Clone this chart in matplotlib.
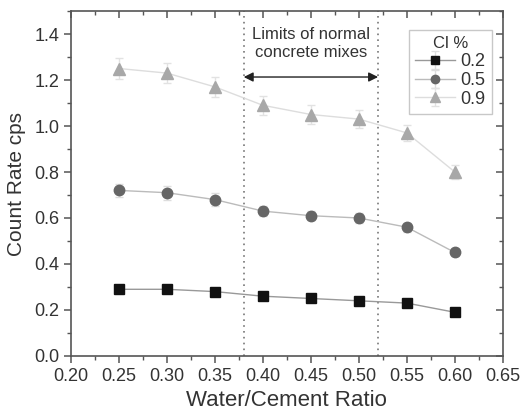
import matplotlib
matplotlib.use("Agg")
import matplotlib.pyplot as plt
from matplotlib.ticker import MultipleLocator

wc_ratio = [0.25, 0.30, 0.35, 0.40, 0.45, 0.50, 0.55, 0.60]
cl_02 = [0.29, 0.29, 0.28, 0.26, 0.25, 0.24, 0.23, 0.19]
cl_05 = [0.72, 0.71, 0.68, 0.63, 0.61, 0.60, 0.56, 0.45]
cl_09 = [1.25, 1.23, 1.17, 1.09, 1.05, 1.03, 0.97, 0.80]
err_02 = [0.01] * 8
err_05 = [0.03, 0.03, 0.03, 0.02, 0.02, 0.02, 0.02, 0.015]
err_09 = [0.045, 0.045, 0.045, 0.04, 0.04, 0.04, 0.035, 0.03]
limits = [0.38, 0.52]
yticks = [0.0, 0.2, 0.4, 0.6, 0.8, 1.0, 1.2, 1.4]

tc = "#333333"
plt.rcParams['font.family'] = ['Liberation Sans', 'DejaVu Sans']
fig = plt.figure(figsize=(5.2, 4.17), dpi=100)
ax = fig.add_axes([0.1365, 0.1463, 0.8305, 0.8273])

ax.errorbar(wc_ratio, cl_02, yerr=err_02, color="#999999", ecolor="#dddddd",
            marker="s", mfc="#111111", mec="#111111", ms=6.5, lw=1, capsize=3,
            label="0.2", zorder=3)
ax.errorbar(wc_ratio, cl_05, yerr=err_05, color="#bbbbbb", ecolor="#dddddd",
            marker="o", mfc="#666666", mec="#666666", ms=7.5, lw=1, capsize=3,
            label="0.5", zorder=3)
ax.errorbar(wc_ratio, cl_09, yerr=err_09, color="#dddddd", ecolor="#e2e2e2",
            marker="^", mfc="#a8a8a8", mec="#a8a8a8", ms=8.5, lw=1, capsize=3,
            label="0.9", zorder=3)

for xv in limits:
    ax.axvline(xv, color="#777777", ls=(0, (1, 2.5)), lw=1.2, zorder=2)

ax.annotate("", xy=(limits[0], 1.213), xytext=(limits[1], 1.213),
            arrowprops=dict(arrowstyle="<|-|>", color="#222222", lw=1,
                            mutation_scale=14, shrinkA=0, shrinkB=0))
ax.text(sum(limits) / 2, 1.36, "Limits of normal\nconcrete mixes",
        ha="center", va="center", fontsize=12, color=tc, linespacing=1.25)

ax.set_xlim(0.20, 0.65)
ax.set_ylim(0.0, 1.5)
ax.xaxis.set_major_locator(MultipleLocator(0.05))
ax.xaxis.set_minor_locator(MultipleLocator(0.025))
ax.set_yticks(yticks)
ax.yaxis.set_minor_locator(MultipleLocator(0.1))
ax.xaxis.set_major_formatter(plt.FuncFormatter(lambda v, p: f"{v:.2f}"))
ax.yaxis.set_major_formatter(plt.FuncFormatter(lambda v, p: f"{v:.1f}"))

for side in ["left", "bottom", "right", "top"]:
    ax.spines[side].set_color("#555555")
    ax.spines[side].set_linewidth(1.2)
ax.tick_params(which="both", direction="out", color="#555555", labelcolor=tc,
               labelsize=13)
ax.tick_params(which="major", length=5, width=1.1)
ax.tick_params(which="minor", length=3, width=1)
ax.tick_params(which="both", top=False, right=False)
# mirrored ticks point inward
ax2 = ax.secondary_xaxis("top")
ax2.xaxis.set_major_locator(MultipleLocator(0.05))
ax2.xaxis.set_minor_locator(MultipleLocator(0.025))
ax2.tick_params(which="both", direction="in", color="#555555", labeltop=False)
ax2.tick_params(which="major", length=5, width=1.1)
ax2.tick_params(which="minor", length=3, width=1)
ax2.spines["top"].set_visible(False)
ax3 = ax.secondary_yaxis("right")
ax3.set_yticks(yticks)
ax3.yaxis.set_minor_locator(MultipleLocator(0.1))
ax3.tick_params(which="both", direction="in", color="#555555", labelright=False)
ax3.tick_params(which="major", length=5, width=1.1)
ax3.tick_params(which="minor", length=3, width=1)
ax3.spines["right"].set_visible(False)

ax.set_xlabel("Water/Cement Ratio", fontsize=16, color=tc, labelpad=4)
ax.set_ylabel("Count Rate cps", fontsize=15, color=tc, labelpad=6)

leg = ax.legend(title="Cl %", loc="upper right", bbox_to_anchor=(0.975, 0.945),
                fontsize=13, title_fontsize=12, frameon=True, fancybox=False,
                edgecolor="#bbbbbb", handlelength=2.2, handletextpad=0.3,
                labelspacing=0.1, borderpad=0.35, borderaxespad=0,
                markerscale=0.8)
for t in leg.get_texts():
    t.set_color(tc)
leg.get_title().set_color(tc)
leg.get_frame().set_linewidth(1)

fig.savefig("out.png", dpi=100)
